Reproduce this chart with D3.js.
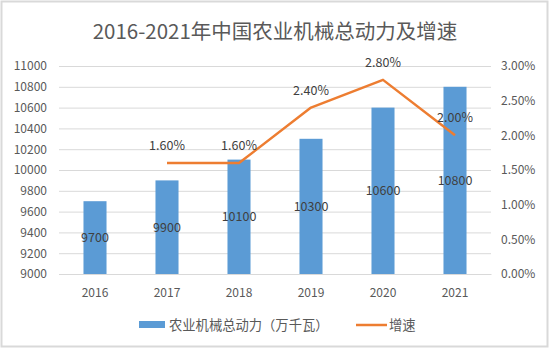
<!DOCTYPE html>
<html>
<head>
<meta charset="utf-8">
<script src="https://cdn.jsdelivr.net/npm/d3@7"></script>
<style>
  body { margin: 0; background: #fff; }
  svg text { font-family: "Noto Sans CJK SC", "Noto Sans", sans-serif; }
</style>
</head>
<body>
<div id="chart" style="width:550px;height:351px;"></div>
<script>
const years = ["2016", "2017", "2018", "2019", "2020", "2021"];
const power = [9700, 9900, 10100, 10300, 10600, 10800];
const growth = [null, 1.6, 1.6, 2.4, 2.8, 2.0];
const leftTicks = [9000, 9200, 9400, 9600, 9800, 10000, 10200, 10400, 10600, 10800, 11000];
const rightTicks = [0, 0.5, 1.0, 1.5, 2.0, 2.5, 3.0];
const titleText = "2016-2021年中国农业机械总动力及增速";
const legendNames = ["农业机械总动力（万千瓦）", "增速"];

const width = 550, height = 351;
const margin = { top: 66, right: 59, bottom: 77, left: 59 };
const iW = width - margin.left - margin.right;
const iH = height - margin.top - margin.bottom;

const svg = d3.select("#chart").append("svg")
  .attr("width", width)
  .attr("height", height);

svg.append("rect")
  .attr("x", 1.5).attr("y", 1.5)
  .attr("width", width - 4).attr("height", height - 6)
  .attr("fill", "#fff")
  .attr("stroke", "#d9d9d9")
  .attr("stroke-width", 2);

svg.append("text")
  .attr("x", width / 2)
  .attr("y", 39)
  .attr("text-anchor", "middle")
  .style("font-size", "20.5px")
  .style("fill", "#595959")
  .text(titleText);

const g = svg.append("g").attr("transform", `translate(${margin.left},${margin.top})`);

const x = d3.scaleBand().domain(years).range([0, iW]).paddingInner(0.68).paddingOuter(0.34);
const y = d3.scaleLinear().domain([9000, 11000]).range([iH, 0]);
const y2 = d3.scaleLinear().domain([0, 3]).range([iH, 0]);

// gridlines
g.append("g")
  .call(d3.axisLeft(y).tickValues(leftTicks).tickSize(-iW).tickFormat(""))
  .call(a => a.select(".domain").remove())
  .call(a => a.selectAll("line").attr("stroke", "#d9d9d9"));

// left axis labels
g.append("g")
  .call(d3.axisLeft(y).tickValues(leftTicks).tickSize(0).tickPadding(12).tickFormat(d3.format("d")))
  .call(a => a.select(".domain").remove())
  .call(a => a.selectAll("text").style("font-size", "12px").style("fill", "#595959"));

// right axis labels
g.append("g")
  .attr("transform", `translate(${iW},0)`)
  .call(d3.axisRight(y2).tickValues(rightTicks).tickSize(0).tickPadding(10).tickFormat(d => d.toFixed(2) + "%"))
  .call(a => a.select(".domain").remove())
  .call(a => a.selectAll("text").style("font-size", "12px").style("fill", "#595959"));

// x axis
g.append("g")
  .attr("transform", `translate(0,${iH})`)
  .call(d3.axisBottom(x).tickSize(0).tickPadding(14))
  .call(a => a.select(".domain").attr("stroke", "#d9d9d9"))
  .call(a => a.selectAll("text").style("font-size", "12px").style("fill", "#595959"));

const bars = years.map((yr, i) => ({ yr, v: power[i] }));

g.selectAll("rect.bar")
  .data(bars)
  .join("rect")
  .attr("class", "bar")
  .attr("x", d => x(d.yr))
  .attr("y", d => y(d.v))
  .attr("width", x.bandwidth())
  .attr("height", d => iH - y(d.v))
  .attr("fill", "#5b9bd5");

g.selectAll("text.barlabel")
  .data(bars)
  .join("text")
  .attr("class", "barlabel")
  .attr("x", d => x(d.yr) + x.bandwidth() / 2)
  .attr("y", d => (y(d.v) + iH) / 2)
  .attr("dy", "0.35em")
  .attr("text-anchor", "middle")
  .style("font-size", "12.5px")
  .style("fill", "#404040")
  .text(d => d.v);

const pts = years.map((yr, i) => ({ yr, v: growth[i] })).filter(d => d.v !== null);

const line = d3.line()
  .x(d => x(d.yr) + x.bandwidth() / 2)
  .y(d => y2(d.v));

g.append("path")
  .datum(pts)
  .attr("d", line)
  .attr("fill", "none")
  .attr("stroke", "#ed7d31")
  .attr("stroke-width", 2.5)
  .attr("stroke-linejoin", "round");

g.selectAll("text.linelabel")
  .data(pts)
  .join("text")
  .attr("class", "linelabel")
  .attr("x", d => x(d.yr) + x.bandwidth() / 2)
  .attr("y", d => y2(d.v) - 13)
  .attr("text-anchor", "middle")
  .style("font-size", "12.5px")
  .style("fill", "#404040")
  .text(d => d.v.toFixed(2) + "%");

// legend
const lg = svg.append("g").attr("transform", "translate(0,325)");
lg.append("rect")
  .attr("x", 139).attr("y", -4)
  .attr("width", 26).attr("height", 7)
  .attr("fill", "#5b9bd5");
lg.append("text")
  .attr("x", 169).attr("y", 0)
  .attr("dy", "0.35em")
  .style("font-size", "13.3px")
  .style("fill", "#595959")
  .text(legendNames[0]);
lg.append("line")
  .attr("x1", 356).attr("x2", 387)
  .attr("y1", 0).attr("y2", 0)
  .attr("stroke", "#ed7d31")
  .attr("stroke-width", 2.5);
lg.append("text")
  .attr("x", 389).attr("y", 0)
  .attr("dy", "0.35em")
  .style("font-size", "13.3px")
  .style("fill", "#595959")
  .text(legendNames[1]);
</script>
</body>
</html>
